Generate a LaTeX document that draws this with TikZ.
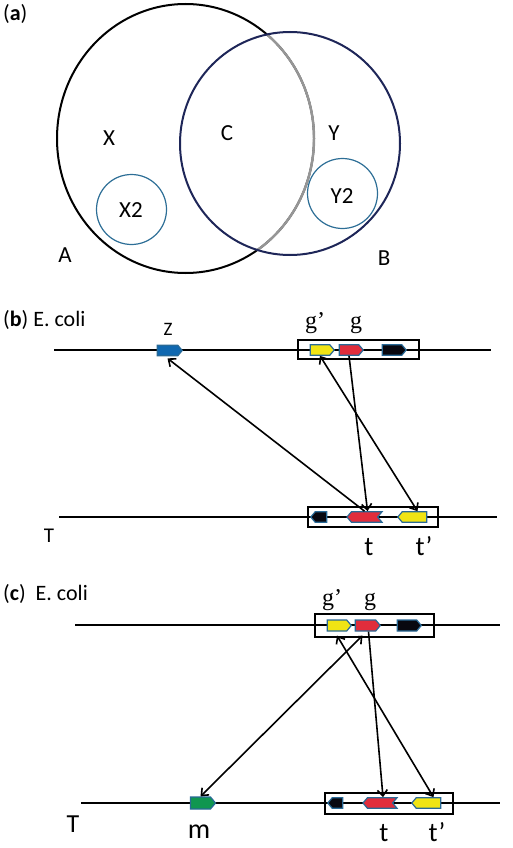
\documentclass[tikz,border=0pt]{standalone}
\usepackage{fontspec}
\setmainfont{Carlito}
\newfontfamily\serifg{Liberation Serif}
\usetikzlibrary{shapes.symbols,arrows.meta}
\definecolor{navyc}{RGB}{30,38,88}
\definecolor{geneedge}{RGB}{40,105,150}
\definecolor{smallc}{RGB}{45,110,150}
\definecolor{genyel}{RGB}{240,228,20}
\definecolor{genred}{RGB}{225,45,60}
\definecolor{genblk}{RGB}{8,8,16}
\definecolor{genblu}{RGB}{16,104,176}
\definecolor{gengrn}{RGB}{16,150,80}
\definecolor{arcgray}{RGB}{150,150,150}
\begin{document}
\begin{tikzpicture}[x=1pt,y=-1pt,
  lbl/.style={font=\fontsize{23}{23}\selectfont, inner sep=0pt, anchor=base},
  plbl/.style={font=\fontsize{22}{22}\selectfont, inner sep=0pt, anchor=base west},
  glbl/.style={font=\serifg\fontsize{24}{24}\selectfont, inner sep=0pt, anchor=base},
  tlbl/.style={font=\fontsize{27}{27}\selectfont, inner sep=0pt, anchor=base},
  dna/.style={line width=1.7pt},
  boxc/.style={draw, line width=1.4pt, inner sep=0pt},
  gene/.style={shape=signal, draw=geneedge, line width=1.2pt, minimum height=10.5pt, inner sep=0pt, signal pointer angle=100},
  gr/.style={gene, signal to=east},
  gl/.style={gene, signal to=west},
  gln/.style={gene, signal to=west, signal from=east},
  tipb/.tip={Straight Barb[length=6pt,width=10pt]},
  arr/.style={line width=1.6pt, -tipb},
  darr/.style={line width=1.6pt, tipb-tipb}
]
\useasboundingbox (0,0) rectangle (512,848);

% ---------- panel (a) ----------
\node[plbl] (pa) at (3,21) {(\textbf{a})};
\draw[line width=2pt, black] (185.5,138.5) ellipse [x radius=128.5, y radius=134.5];
\begin{scope}
  \clip (290,143.5) ellipse [x radius=110, y radius=111.5];
  \draw[line width=2.4pt, arcgray] (185.5,138.5) ellipse [x radius=128.5, y radius=134.5];
\end{scope}
\draw[line width=2pt, navyc] (290,143.5) ellipse [x radius=110, y radius=111.5];
\draw[line width=1.2pt, smallc] (131.5,209.5) circle [radius=35];
\draw[line width=1.2pt, smallc] (342.5,193.5) circle [radius=35];
\node[lbl] (lx) at (109,145) {X};
\node[lbl] (lc) at (227,140) {C};
\node[lbl] (ly) at (334,140) {Y};
\node[lbl] (lx2) at (131,217) {X2};
\node[lbl] (ly2) at (342,203) {Y2};
\node[lbl] (la) at (65,262) {A};
\node[lbl] (lb) at (384,265) {B};

% ---------- panel (b) ----------
\node[plbl] (pb) at (3,326) {(\textbf{b}) E. coli};
\coordinate (b1L) at (54,350);
\coordinate (b1R) at (491,350);
\draw[dna] (b1L) -- (b1R);
\coordinate (b2L) at (59,517);
\coordinate (b2R) at (497,517);
\draw[dna] (b2L) -- (b2R);
\node[boxc, minimum width=121pt, minimum height=19pt] (bbox1) at (358.5,349.5) {};
\node[boxc, minimum width=130pt, minimum height=20pt] (bbox2) at (373,517) {};
\node[gr, fill=genblu, minimum width=25pt] (bz) at (167.5,350.5) {};
\node[gr, fill=genyel, minimum width=24pt] (bgy) at (320,350) {};
\node[gr, fill=genred, minimum width=24pt] (bgr) at (349,350) {};
\node[gr, fill=genblk, minimum width=24pt] (bgk) at (392,350) {};
\node[gl, fill=genblk, minimum width=16pt] (btk) at (321,517) {};
\node[gln, fill=genred, minimum width=35pt] (btr) at (364.5,517) {};
\node[gl, fill=genyel, minimum width=29pt] (bty) at (414.5,517) {};
\node[font=\fontsize{19}{19}\selectfont, inner sep=0pt, anchor=base] (lz) at (168,335) {Z};
\node[glbl] (lbg1) at (315,328) {g’};
\node[glbl] (lbg) at (356,328) {g};
\node[tlbl] (lbt) at (369,555) {t};
\node[tlbl] (lbt1) at (424,555) {t’};
\node[font=\fontsize{21}{21}\selectfont, inner sep=0pt, anchor=base] (lbT) at (49,542) {T};
\draw[arr] (btr.north) -- ([yshift=-2pt]bz.south);
\draw[arr] (bgr.south) -- ([xshift=3pt]btr.north);
\draw[darr] (bgy.south) -- ([xshift=3pt]bty.north);

% ---------- panel (c) ----------
\node[plbl] (pc) at (3,600) {(\textbf{c})\hspace{10pt}E. coli};
\coordinate (c1L) at (75,625);
\coordinate (c1R) at (500,625);
\draw[dna] (c1L) -- (c1R);
\coordinate (c2L) at (81,803);
\coordinate (c2R) at (500,803);
\draw[dna] (c2L) -- (c2R);
\node[boxc, minimum width=119pt, minimum height=23pt] (cbox1) at (374.5,625.5) {};
\node[boxc, minimum width=128pt, minimum height=21pt] (cbox2) at (389,803.5) {};
\node[gr, fill=genyel, minimum width=24pt, minimum height=11pt] (cgy) at (337,625.5) {};
\node[gr, fill=genred, minimum width=25pt, minimum height=11pt] (cgr) at (365.5,625.5) {};
\node[gr, fill=genblk, minimum width=24pt, minimum height=11pt] (cgk) at (407,625.5) {};
\node[gr, fill=gengrn, minimum width=25pt, minimum height=12pt] (cm) at (200.5,803) {};
\node[gl, fill=genblk, minimum width=15pt] (ctk) at (337.5,803) {};
\node[gln, fill=genred, minimum width=34pt] (ctr) at (380,803) {};
\node[gl, fill=genyel, minimum width=29pt] (cty) at (428.5,803) {};
\node[glbl] (lcg1) at (332,605) {g’};
\node[glbl] (lcg) at (370,605) {g};
\node[font=\fontsize{28}{28}\selectfont, inner sep=0pt, anchor=base] (lm) at (199,838) {m};
\node[tlbl] (lct) at (384,841) {t};
\node[tlbl] (lct1) at (437,841) {t’};
\node[font=\fontsize{26}{26}\selectfont, inner sep=0pt, anchor=base] (lcT) at (73,832) {T};
\draw[darr] (cm.north) -- ([xshift=-3pt,yshift=-4pt]cgr.south);
\draw[darr] ([yshift=-4pt]cgy.south) -- ([xshift=5pt]cty.north);
\draw[arr] ([xshift=3pt]cgr.south) -- ([xshift=3pt]ctr.north);
\end{tikzpicture}
\end{document}
